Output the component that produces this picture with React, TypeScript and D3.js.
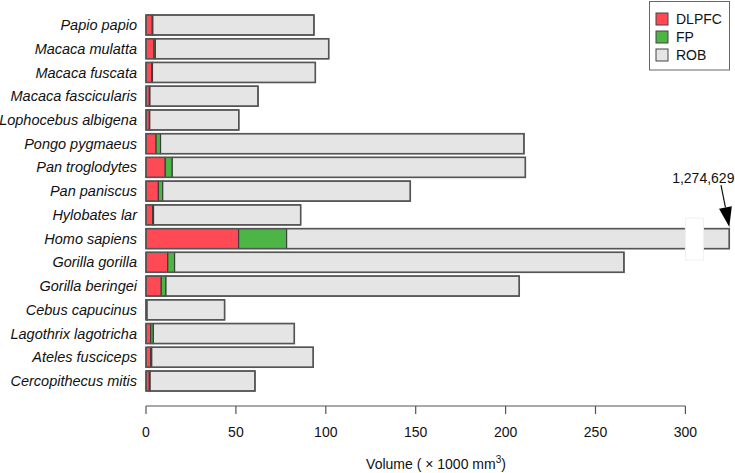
import * as d3 from "d3";
import React from "react";

// species, top to bottom
const species = [
  "Papio papio",
  "Macaca mulatta",
  "Macaca fuscata",
  "Macaca fascicularis",
  "Lophocebus albigena",
  "Pongo pygmaeus",
  "Pan troglodytes",
  "Pan paniscus",
  "Hylobates lar",
  "Homo sapiens",
  "Gorilla gorilla",
  "Gorilla beringei",
  "Cebus capucinus",
  "Lagothrix lagotricha",
  "Ateles fusciceps",
  "Cercopithecus mitis",
];

// volumes, x1000 mm3
const dlpfc = [3.5, 4.4, 3.3, 1.9, 1.9, 5.6, 10.7, 6.9, 3.7, 51.5, 12.1, 8.5, 0.5, 2.6, 2.6, 1.9];
const fp = [0.3, 0.8, 0.3, 0.3, 0.2, 2.5, 3.9, 2.4, 0.5, 26.7, 3.8, 2.6, 0.1, 1.5, 0.6, 0.4];
const rob = [89.6, 96.4, 90.6, 60.1, 49.5, 202.1, 196.4, 137.7, 81.8, 1196.429, 249.9, 196.5, 43.1, 78.4, 89.8, 58.3];

const xTicks = [0, 50, 100, 150, 200, 250, 300];
const seriesNames = ["DLPFC", "FP", "ROB"];
const seriesColors = ["#ff4a55", "#4cb546", "#e5e5e5"];

const WIDTH = 735;
const HEIGHT = 473;
const FONT = "'Liberation Sans', Arial, Helvetica, sans-serif";

export default function App() {
  const totals = species.map((_, i) => dlpfc[i] + fp[i] + rob[i]);
  const maxTotal = d3.max(totals) as number;
  const breakAt = 300;

  // axis is broken after 300: the human bar is squeezed into the last bit
  const x = d3.scaleLinear().domain([0, breakAt, maxTotal]).range([146, 685.4, 729.3]);

  const y = d3
    .scaleBand()
    .domain(species)
    .range([13.135, 392.865])
    .paddingInner(0.157)
    .paddingOuter(0.0785);

  const rows = species.map((s, i) => ({ s, values: [dlpfc[i], fp[i], rob[i]] }));
  const stack = d3.stack().keys(["0", "1", "2"]);
  const stacked = stack(rows.map((r) => ({ "0": r.values[0], "1": r.values[1], "2": r.values[2] })) as any);

  const axisY = 406;
  const homoIdx = species.indexOf("Homo sapiens");
  const homoTop = (y(species[homoIdx]) as number);
  const bw = y.bandwidth();

  // arrow to the end of the human bar
  const tipX = x(totals[homoIdx]);
  const tipY = homoTop - 1.5;
  const startX = tipX - 8.3;
  const startY = tipY - 42;
  const len = Math.hypot(startX - tipX, startY - tipY);
  const ux = (startX - tipX) / len;
  const uy = (startY - tipY) / len;
  const headLen = 20;
  const bx = tipX + ux * headLen;
  const by = tipY + uy * headLen;
  const px = -uy;
  const py = ux;

  return (
    <svg
      width={WIDTH}
      height={HEIGHT}
      style={{ position: "absolute", left: 0, top: 0, background: "#fff" }}
      fontFamily={FONT}
    >
      {/* bars */}
      {stacked.map((layer: any, k: number) => (
        <g key={k}>
          {layer.map((d: any, i: number) => (
            <rect
              key={i}
              x={x(d[0])}
              y={y(species[i]) as number}
              width={Math.max(0, x(d[1]) - x(d[0]))}
              height={bw}
              fill={seriesColors[k]}
              stroke="#3d3d3d"
              strokeWidth={1.2}
            />
          ))}
        </g>
      ))}

      {/* outline of each bar */}
      {totals.map((t, i) => (
        <rect
          key={i}
          x={x(0)}
          y={y(species[i]) as number}
          width={x(t) - x(0)}
          height={bw}
          fill="none"
          stroke="#555"
          strokeWidth={1.5}
        />
      ))}

      {/* axis break */}
      <rect
        x={x(breakAt)}
        y={homoTop - 10.5}
        width={18}
        height={bw + 22}
        fill="#fff"
        stroke="#f0f0f0"
        strokeWidth={1}
      />

      {/* species labels */}
      {species.map((s) => (
        <text
          key={s}
          x={137}
          y={(y(s) as number) + bw / 2}
          dy="0.35em"
          textAnchor="end"
          fontSize={14.5}
          fontStyle="italic"
          fill="#111"
        >
          {s}
        </text>
      ))}

      {/* x axis */}
      <g>
        <line x1={x(0)} x2={x(breakAt)} y1={axisY} y2={axisY} stroke="#555" strokeWidth={1.2} />
        {xTicks.map((t) => (
          <g key={t}>
            <line x1={x(t)} x2={x(t)} y1={axisY} y2={axisY + 8} stroke="#555" strokeWidth={1.2} />
            <text x={x(t)} y={437} textAnchor="middle" fontSize={14} fill="#111">
              {t}
            </text>
          </g>
        ))}
        <text x={436} y={469} textAnchor="middle" fontSize={14} fill="#111">
          {"Volume ( \u00d7 1000 mm"}
          <tspan dy={-6} fontSize={10}>3</tspan>
          <tspan dy={6}>)</tspan>
        </text>
      </g>

      {/* annotation */}
      <text x={tipX - 26} y={tipY - 44} textAnchor="middle" fontSize={14} fill="#111">
        {d3.format(",")(Math.round(totals[homoIdx] * 1000))}
      </text>
      <line x1={startX} y1={startY} x2={bx} y2={by} stroke="#111" strokeWidth={1.2} />
      <polygon
        points={`${tipX},${tipY} ${bx + px * 6.5},${by + py * 6.5} ${bx - px * 6.5},${by - py * 6.5}`}
        fill="#000"
      />

      {/* legend */}
      <g>
        <rect x={649.5} y={1.5} width={80} height={68.5} fill="#fff" stroke="#666" strokeWidth={1} />
        {seriesNames.map((n, i) => (
          <g key={n} transform={`translate(656, ${13 + i * 18})`}>
            <rect width={12} height={12} fill={seriesColors[i]} stroke="#444" strokeWidth={1} />
            <text x={20} y={6} dy="0.35em" fontSize={14} fill="#111">
              {n}
            </text>
          </g>
        ))}
      </g>
    </svg>
  );
}
